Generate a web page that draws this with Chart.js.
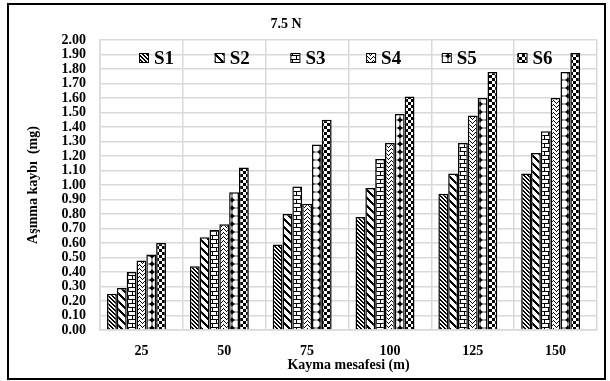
<!DOCTYPE html>
<html>
<head>
<meta charset="utf-8">
<script src="https://cdn.jsdelivr.net/npm/chart.js@4"></script>
<style>
  html, body { margin: 0; padding: 0; background: #fff; }
</style>
</head>
<body>
<canvas id="myChart" width="610" height="381"></canvas>
<script>
// data
const categories = ['25', '50', '75', '100', '125', '150'];
const seriesNames = ['S1', 'S2', 'S3', 'S4', 'S5', 'S6'];
const s1 = [0.25, 0.44, 0.59, 0.78, 0.94, 1.08];
const s2 = [0.29, 0.64, 0.80, 0.98, 1.08, 1.22];
const s3 = [0.40, 0.69, 0.99, 1.18, 1.29, 1.37];
const s4 = [0.48, 0.73, 0.87, 1.29, 1.48, 1.60];
const s5 = [0.52, 0.95, 1.28, 1.49, 1.60, 1.78];
const s6 = [0.60, 1.12, 1.45, 1.61, 1.78, 1.91];
// the original sheet has an empty 7th column, it pushes the groups a bit left
const emptySeries = [null, null, null, null, null, null];
const yMin = 0, yMax = 2, yStep = 0.1;
const chartTitle = '7.5 N';
const xTitle = 'Kayma mesafesi (m)';
const yTitle = 'Aşınma kaybı  (mg)';

const FONT = "'Times New Roman', 'Liberation Serif', serif";
Chart.defaults.font.family = FONT;
Chart.defaults.color = '#000';

// black & white fill patterns like the excel ones
function makePattern(w, h, draw) {
  const c = document.createElement('canvas');
  c.width = w; c.height = h;
  const g = c.getContext('2d');
  g.fillStyle = '#fff';
  g.fillRect(0, 0, w, h);
  g.fillStyle = '#000';
  draw(g, w, h);
  return g.createPattern(c, 'repeat');
}

const patterns = [
  // dark downward diagonal
  makePattern(4, 4, (g) => {
    for (let i = 0; i < 4; i++) { g.fillRect(i, i, 1, 1); g.fillRect((i + 1) % 4, i, 1, 1); }
  }),
  // wide downward diagonal
  makePattern(8, 8, (g) => {
    for (let i = 0; i < 8; i++) for (let k = 0; k < 3; k++) g.fillRect((i + k) % 8, i, 1, 1);
  }),
  // horizontal brick
  makePattern(8, 8, (g) => {
    g.fillRect(0, 3, 8, 1); g.fillRect(0, 7, 8, 1);
    g.fillRect(0, 0, 1, 3); g.fillRect(4, 4, 1, 3);
  }),
  // small wave
  makePattern(6, 4, (g) => {
    g.fillRect(0, 1, 1, 1); g.fillRect(1, 0, 1, 1); g.fillRect(2, 1, 1, 1);
    g.fillRect(3, 2, 1, 1); g.fillRect(4, 3, 1, 1); g.fillRect(5, 2, 1, 1);
  }),
  // black with white dots -> black stars
  makePattern(8, 8, (g) => {
    g.fillRect(0, 0, 8, 8);
    g.fillStyle = '#fff';
    g.beginPath(); g.arc(4, 4, 3.7, 0, Math.PI * 2); g.fill();
  }),
  // checkerboard
  makePattern(6, 6, (g) => {
    g.fillRect(0, 0, 3, 3); g.fillRect(3, 3, 3, 3);
  })
];

const allSeries = [s1, s2, s3, s4, s5, s6];
const datasets = allSeries.map((vals, i) => ({
  label: seriesNames[i],
  data: vals,
  backgroundColor: patterns[i],
  borderColor: '#000',
  borderWidth: 1.5,
  categoryPercentage: 0.83,
  barPercentage: 1.0
}));
datasets.push({
  label: '',
  data: emptySeries,
  backgroundColor: 'rgba(0,0,0,0)',
  borderWidth: 0,
  categoryPercentage: 0.83,
  barPercentage: 1.0
});

// title, legend inside the plot and the outer frame
const decoPlugin = {
  id: 'deco',
  afterDraw(chart) {
    const { ctx, chartArea } = chart;
    ctx.save();
    ctx.fillStyle = '#000';
    ctx.font = 'bold 14px ' + FONT;
    ctx.textAlign = 'center';
    ctx.textBaseline = 'alphabetic';
    ctx.fillText(chartTitle, 286, 28);

    ctx.textAlign = 'left';
    ctx.font = 'bold 19px ' + FONT;
    chart.data.datasets.forEach((ds, i) => {
      if (!ds.label) return;
      const x = chartArea.left + 39 + i * 75.7;
      const y = 53;
      ctx.fillStyle = ds.backgroundColor;
      ctx.fillRect(x, y, 9, 9);
      ctx.strokeStyle = '#000';
      ctx.lineWidth = 1;
      ctx.strokeRect(x + 0.5, y + 0.5, 9, 9);
      ctx.fillStyle = '#000';
      ctx.fillText(ds.label, x + 15, 64);
    });

    ctx.strokeStyle = '#000';
    ctx.lineWidth = 2;
    ctx.strokeRect(8, 4, 597, 375);
    ctx.restore();
  }
};

const gridColor = '#d9d9d9';

new Chart(document.getElementById('myChart'), {
  type: 'bar',
  data: { labels: categories, datasets: datasets },
  options: {
    responsive: false,
    animation: false,
    layout: { padding: { left: 0, right: 13, top: 40, bottom: 7 } },
    plugins: {
      legend: { display: false },
      title: { display: false },
      tooltip: { enabled: false }
    },
    scales: {
      x: {
        grid: { color: gridColor, lineWidth: 1.5, drawTicks: false, offset: true },
        border: { color: gridColor, width: 1.5 },
        ticks: { font: { size: 14, weight: 'bold' }, padding: 13 },
        title: { display: true, text: xTitle, font: { size: 14, weight: 'bold' }, padding: { top: 0, bottom: 0 } },
        afterFit: (s) => { s.height = 44; }
      },
      y: {
        min: yMin,
        max: yMax,
        grid: { color: gridColor, lineWidth: 1.5, drawTicks: false },
        border: { color: gridColor, width: 1.5 },
        ticks: {
          stepSize: yStep,
          autoSkip: false,
          padding: 14,
          font: { size: 14, weight: 'bold', lineHeight: 1 },
          callback: (v) => v.toFixed(2)
        },
        title: { display: true, text: yTitle, font: { size: 14, weight: 'bold' }, padding: { top: 25, bottom: 0 } },
        afterFit: (s) => { s.width = 100; }
      }
    }
  },
  plugins: [decoPlugin]
});
</script>
</body>
</html>
